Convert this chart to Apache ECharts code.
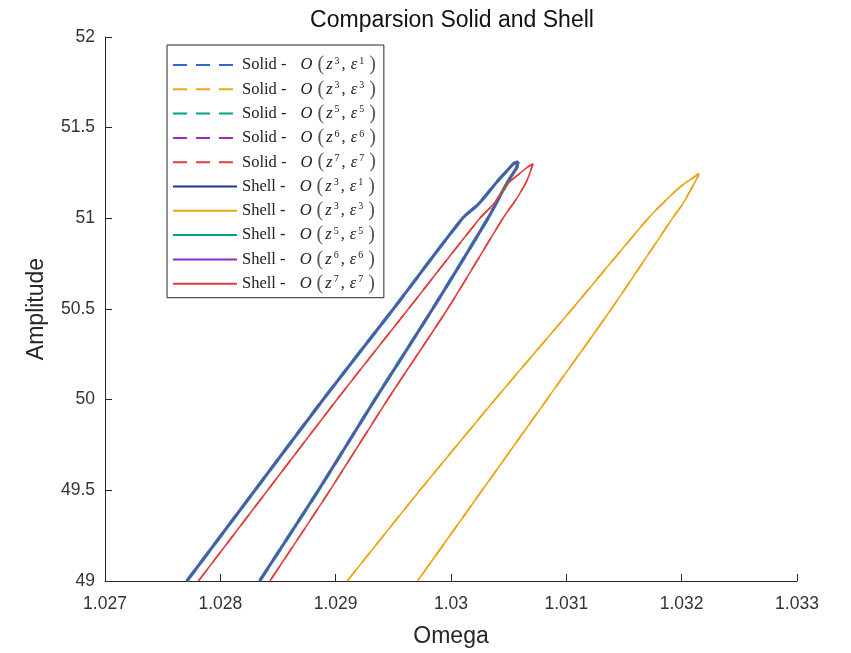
<!DOCTYPE html>
<html>
<head>
<meta charset="utf-8">
<script src="https://cdn.jsdelivr.net/npm/echarts@6/dist/echarts.min.js"></script>
<style>
  html, body { margin: 0; padding: 0; background: #fff; }
  #chart { width: 851px; height: 653px; }
</style>
</head>
<body>
<div id="chart"></div>
<script>
// loops: [omega, amplitude], up the left branch, round the tip, down the right
const loopZ3E1 = [
  [1.02771, 49], [1.02830, 49.5], [1.02889, 50], [1.02950, 50.5], [1.03010, 51],
  [1.03024, 51.08], [1.03041, 51.21], [1.03049, 51.265], [1.03054, 51.30], [1.03058, 51.31],
  [1.03057, 51.28], [1.03052, 51.23], [1.03043, 51.13], [1.03032, 51],
  [1.02984, 50.5], [1.02934, 50], [1.02885, 49.5], [1.02834, 49]
]
const loopZ3E3 = [
  [1.02910, 49], [1.02973, 49.5], [1.03038, 50], [1.03105, 50.5], [1.03171, 51],
  [1.03188, 51.11], [1.03200, 51.18], [1.03209, 51.22], [1.03215, 51.246],
  [1.03214, 51.23], [1.03209, 51.17], [1.03201, 51.08], [1.03192, 51],
  [1.03139, 50.5], [1.03083, 50], [1.03027, 49.5], [1.02971, 49]
]
const loopZ7E7 = [
  [1.02781, 49], [1.02841, 49.5], [1.02901, 50], [1.02963, 50.5], [1.03025, 51],
  [1.03037, 51.08], [1.03049, 51.19], [1.03060, 51.25], [1.03067, 51.285], [1.03071, 51.30],
  [1.03070, 51.28], [1.03066, 51.21], [1.03057, 51.11], [1.03045, 51],
  [1.02997, 50.5], [1.02945, 50], [1.02895, 49.5], [1.02843, 49]
]

// legend orders: [z power, eps power]
const orders = [[3, 1], [3, 3], [5, 5], [6, 6], [7, 7]]
const solidColors = ['#3566d6', '#eda515', '#00a388', '#a02ac0', '#e0413f']
const shellColors = ['#1c34a4', '#eda515', '#00a388', '#922cc4', '#e0413f']
const loops = [loopZ3E1, loopZ3E3, loopZ3E1, loopZ3E1, loopZ7E7]

let series = []
let names = []
function addSeries(kind, dashed) {
  orders.forEach((o, i) => {
    let name = kind + ' - O(z' + o[0] + ',e' + o[1] + ')'
    names.push(name)
    series.push({
      name: name,
      type: 'line',
      data: loops[i],
      symbol: 'none',
      smooth: 0.25,
      clip: true,
      lineStyle: {
        color: dashed ? solidColors[i] : shellColors[i],
        width: i == 2 ? 3.2 : 1.6,
        type: dashed ? [14, 9] : 'solid'
      },
      itemStyle: { color: dashed ? solidColors[i] : shellColors[i] }
    })
  })
}
addSeries('Solid', true)
addSeries('Shell', false)

const txt = '#222'
const myChart = echarts.init(document.getElementById('chart'))
myChart.setOption({
  animation: false,
  backgroundColor: '#fff',
  title: {
    text: 'Comparsion Solid and Shell',
    left: 447,
    textAlign: 'center',
    top: 4,
    textStyle: { fontFamily: 'Liberation Sans', fontSize: 23, fontWeight: 'normal', color: '#111' }
  },
  legend: {
    orient: 'vertical',
    left: 167,
    top: 45,
    data: names,
    itemWidth: 64,
    itemHeight: 14,
    itemGap: 4.3,
    padding: [10, 8, 4, 5],
    backgroundColor: '#fff',
    borderColor: '#262626',
    borderWidth: 1,
    borderRadius: 0,
    itemStyle: { opacity: 0 },
    formatter: function (name) {
      let kind = name.split(' ')[0]
      let m = name.match(/z(\d),e(\d)/)
      return '{n|' + kind + ' - }{i|O}{p|(}{i|z}{s|' + m[1] + '}{c|,}{i|ε}{s|' + m[2] + '}{q|)}'
    },
    textStyle: {
      color: txt,
      rich: {
        n: { fontFamily: 'Liberation Serif', fontSize: 16.5, color: txt, lineHeight: 18, padding: [0, 10, 0, 0] },
        i: { fontFamily: 'Liberation Serif', fontStyle: 'italic', fontSize: 16.5, color: txt, lineHeight: 18 },
        s: { fontFamily: 'Liberation Serif', fontSize: 10, color: txt, lineHeight: 10, verticalAlign: 'top', padding: [0, 2, 0, 2] },
        c: { fontFamily: 'Liberation Serif', fontSize: 16.5, color: txt, lineHeight: 18, padding: [0, 5, 0, 0] },
        p: { fontFamily: 'Liberation Serif', fontSize: 20, color: '#555', lineHeight: 18, padding: [0, 2, 0, 5] },
        q: { fontFamily: 'Liberation Serif', fontSize: 20, color: '#555', lineHeight: 18, padding: [0, 0, 0, 3] }
      }
    }
  },
  grid: { left: 105, right: 54, top: 37, bottom: 71 },
  xAxis: {
    type: 'value',
    min: 1.027,
    max: 1.033,
    interval: 0.001,
    name: 'Omega',
    nameLocation: 'middle',
    nameGap: 44,
    nameTextStyle: { fontFamily: 'Liberation Sans', fontSize: 23, color: '#262626' },
    axisLine: { show: true, lineStyle: { color: '#262626', width: 1 } },
    axisTick: { show: true, inside: true, length: 7, lineStyle: { color: '#262626' } },
    axisLabel: { fontFamily: 'Liberation Sans', fontSize: 17.5, color: '#333', margin: 14 },
    splitLine: { show: false }
  },
  yAxis: {
    type: 'value',
    min: 49,
    max: 52,
    interval: 0.5,
    name: 'Amplitude',
    nameLocation: 'middle',
    nameGap: 57,
    nameTextStyle: { fontFamily: 'Liberation Sans', fontSize: 23, color: '#262626' },
    axisLine: { show: true, lineStyle: { color: '#262626', width: 1 } },
    axisTick: { show: true, inside: true, length: 7, lineStyle: { color: '#262626' } },
    axisLabel: { fontFamily: 'Liberation Sans', fontSize: 17.5, color: '#333', margin: 10 },
    splitLine: { show: false }
  },
  series: series
})
</script>
</body>
</html>
